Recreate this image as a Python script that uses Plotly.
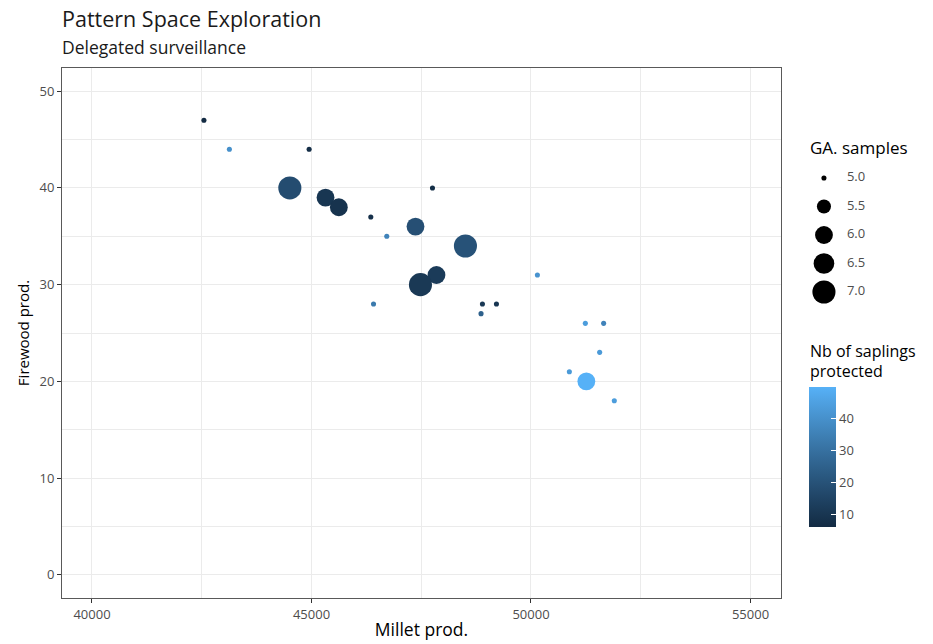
import plotly.graph_objects as go
import numpy as np

# ---- data ----
millet = [42550, 43130, 44946, 44507, 45320, 45623, 47756, 46351, 46715, 47369,
          48507, 50146, 47847, 47482, 46413, 48894, 49213, 48862, 51238, 51655,
          51564, 50874, 51261, 51898]
firewood = [47, 44, 44, 40, 39, 38, 40, 37, 35, 36,
            34, 31, 31, 30, 28, 28, 28, 27, 26, 26,
            23, 21, 20, 18]
ga_samples = [5, 5, 5, 7, 6, 6, 5, 5, 5, 6,
              7, 5, 6, 7, 5, 5, 5, 5, 5, 5,
              5, 5, 6, 5]
saplings = [6, 40, 7, 18, 10, 9, 7, 8, 36, 19,
            20, 41, 12, 11, 33, 11, 10, 25, 44, 36,
            43, 43, 50, 44]
size_breaks = [5.0, 5.5, 6.0, 6.5, 7.0]
size_labels = ["5.0", "5.5", "6.0", "6.5", "7.0"]
x_ticks = [40000, 45000, 50000, 55000]
x_ticklabels = ["40000", "45000", "50000", "55000"]
y_ticks = [0, 10, 20, 30, 40, 50]
cbar_ticks = [10, 20, 30, 40]

# ---- helpers: ggplot-like area size scale and Lab gradient ----
ga_min, ga_max = min(ga_samples), max(ga_samples)


def size_px(v):
    frac = (np.asarray(v, float) - ga_min) / (ga_max - ga_min)
    return 3.6 * (1 + 5 * np.sqrt(frac)) + 1.5


def hex2rgb(h):
    h = h.lstrip('#')
    return [int(h[i:i + 2], 16) / 255 for i in (0, 2, 4)]


def srgb2lin(c):
    c = np.asarray(c)
    return np.where(c <= 0.04045, c / 12.92, ((c + 0.055) / 1.055) ** 2.4)


def lin2srgb(c):
    c = np.asarray(c)
    return np.where(c <= 0.0031308, 12.92 * c, 1.055 * np.power(np.clip(c, 0, None), 1 / 2.4) - 0.055)


M = np.array([[0.4124, 0.3576, 0.1805], [0.2126, 0.7152, 0.0722], [0.0193, 0.1192, 0.9505]])
Minv = np.linalg.inv(M)
WP = np.array([0.95047, 1.0, 1.08883])


def f(t):
    d = 6 / 29
    return np.where(t > d ** 3, np.cbrt(t), t / (3 * d * d) + 4 / 29)


def finv(t):
    d = 6 / 29
    return np.where(t > d, t ** 3, 3 * d * d * (t - 4 / 29))


def rgb2lab(rgb):
    xyz = M @ srgb2lin(rgb) / WP
    fx, fy, fz = f(xyz)
    return np.array([116 * fy - 16, 500 * (fx - fy), 200 * (fy - fz)])


def lab2rgb(lab):
    L, a, b = lab
    fy = (L + 16) / 116
    xyz = np.array([finv(fy + a / 500), finv(fy), finv(fy - b / 200)]) * WP
    return np.clip(lin2srgb(Minv @ xyz), 0, 1)


lo, hi = rgb2lab(hex2rgb("#132B43")), rgb2lab(hex2rgb("#56B1F7"))
colorscale = []
for t in np.linspace(0, 1, 11):
    r, g, b = lab2rgb(lo + (hi - lo) * t)
    colorscale.append([float(t), f"rgb({int(round(r*255))},{int(round(g*255))},{int(round(b*255))})"])

# ---- layout geometry (pixel helpers; page body margin is removed below) ----
W, H = 933, 644
ml, mr, mt, mb = 62, 10, 68, 46
pw, ph = W - ml - mr, H - mt - mb
panel_right = 781
dom_main = (panel_right - ml) / pw


def px_x(p):
    return (p - ml) / pw


def px_y(p):
    return (H - mb - p) / ph


FONT = "Open Sans, Noto Sans, sans-serif"
GRID = "#ebebeb"
TICKC = "#4d4d4d"

fig = go.Figure()

fig.add_trace(go.Scatter(
    x=millet, y=firewood, mode="markers",
    marker=dict(size=size_px(ga_samples), color=saplings, colorscale=colorscale,
                cmin=min(saplings), cmax=max(saplings), opacity=1, line=dict(width=0),
                colorbar=dict(
                    x=px_x(809), xanchor="left", xpad=0,
                    y=px_y(457), yanchor="middle", ypad=0,
                    len=140, lenmode="pixels", thickness=27, thicknessmode="pixels",
                    outlinewidth=0, tickvals=cbar_ticks, ticks="inside", ticklen=5,
                    tickcolor="white", tickwidth=1,
                    tickfont=dict(family=FONT, size=13, color=TICKC))),
    showlegend=False, hoverinfo="x+y"))

# size legend drawn on an auxiliary axis
fig.add_trace(go.Scatter(
    x=[0.155] * len(size_breaks), y=size_breaks, mode="markers",
    marker=dict(size=size_px(size_breaks), color="#000000", opacity=1, line=dict(width=0)),
    xaxis="x2", yaxis="y2", showlegend=False, hoverinfo="skip"))
fig.add_trace(go.Scatter(
    x=[0.41] * len(size_breaks), y=size_breaks, mode="text", text=size_labels,
    textposition="middle right", textfont=dict(family=FONT, size=13, color=TICKC),
    xaxis="x2", yaxis="y2", showlegend=False, hoverinfo="skip"))

axis_common = dict(showline=True, mirror=True, linecolor="#595959", linewidth=1,
                   showgrid=True, gridcolor=GRID, gridwidth=1, zeroline=False,
                   ticks="outside", ticklen=4, tickcolor="#333333",
                   tickfont=dict(family=FONT, size=13, color=TICKC))

fig.update_layout(
    width=W, height=H, margin=dict(l=ml, r=mr, t=mt, b=mb),
    paper_bgcolor="white", plot_bgcolor="white",
    font=dict(family=FONT),
    xaxis=dict(domain=[0, dom_main], range=[39317, 55695], tickvals=x_ticks, ticktext=x_ticklabels,
               minor=dict(dtick=2500, tick0=0, showgrid=True, gridcolor=GRID, gridwidth=0.6, ticks=""),
               title=dict(text="Millet prod.", font=dict(family=FONT, size=17.5, color="black"), standoff=2),
               automargin=False, **axis_common),
    yaxis=dict(range=[-2.4, 52.4], tickvals=y_ticks,
               minor=dict(dtick=5, tick0=0, showgrid=True, gridcolor=GRID, gridwidth=0.6, ticks=""),
               title=dict(text="Firewood prod.", font=dict(family=FONT, size=15, color="black"), standoff=6),
               automargin=False, **axis_common),
    xaxis2=dict(domain=[px_x(810), px_x(900)], range=[0, 1], visible=False, fixedrange=True, anchor="y2"),
    yaxis2=dict(domain=[px_y(310), px_y(160)], range=[7.316, 4.684], visible=False, fixedrange=True,
                anchor="x2"),
    annotations=[
        dict(text="Pattern Space Exploration", x=px_x(60), y=px_y(19), xref="paper", yref="paper",
             xanchor="left", yanchor="middle", showarrow=False,
             font=dict(family=FONT, size=21.5, color="#1a1a1a")),
        dict(text="Delegated surveillance", x=px_x(60), y=px_y(47), xref="paper", yref="paper",
             xanchor="left", yanchor="middle", showarrow=False,
             font=dict(family=FONT, size=17.5, color="#1a1a1a")),
        dict(text="GA. samples", x=px_x(808), y=px_y(147), xref="paper", yref="paper",
             xanchor="left", yanchor="middle", showarrow=False,
             font=dict(family=FONT, size=17, color="black")),
        dict(text="Nb of saplings", x=px_x(808), y=px_y(351), xref="paper", yref="paper",
             xanchor="left", yanchor="middle", showarrow=False,
             font=dict(family=FONT, size=16, color="black")),
        dict(text="protected", x=px_x(808), y=px_y(371), xref="paper", yref="paper",
             xanchor="left", yanchor="middle", showarrow=False,
             font=dict(family=FONT, size=16, color="black")),
    ],
)

fig.write_html("out.html", post_script="document.body.style.margin='0px';",
               config={"displayModeBar": False})
